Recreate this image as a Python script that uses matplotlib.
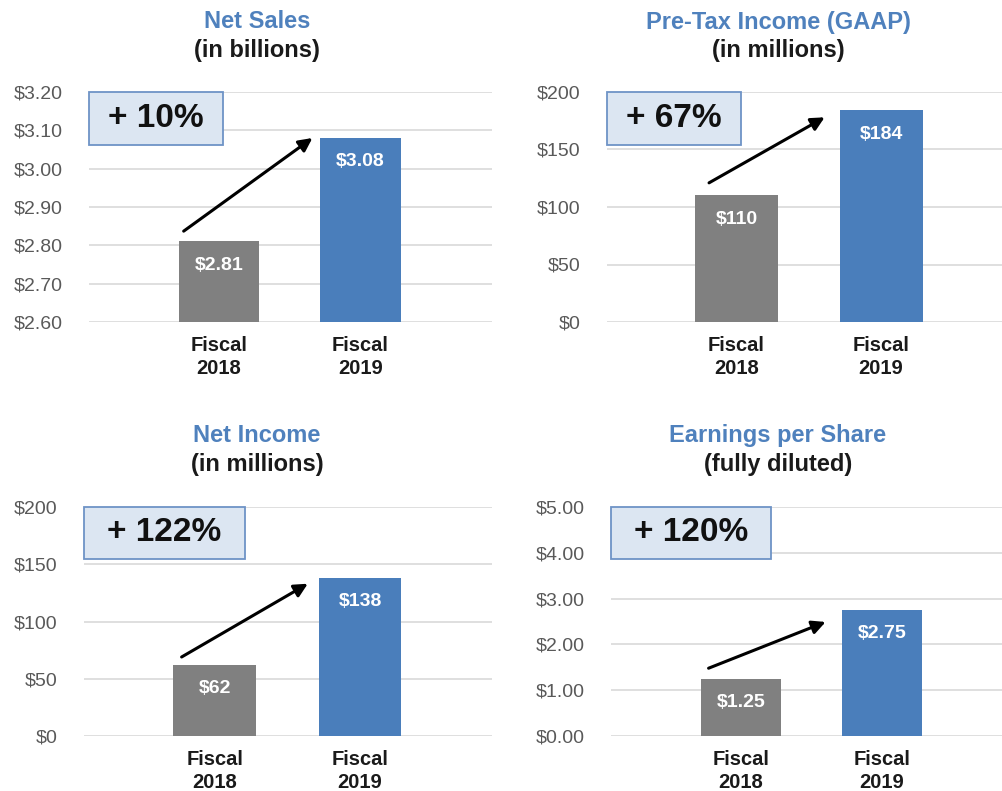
import matplotlib
matplotlib.use("Agg")
import matplotlib.pyplot as plt
from matplotlib.patches import Rectangle
from matplotlib.ticker import FuncFormatter

plt.rcParams['font.family'] = ['Liberation Sans', 'DejaVu Sans']

# ---------------- data ----------------
categories = ["Fiscal\n2018", "Fiscal\n2019"]

titles = ["Net Sales", "Pre-Tax Income (GAAP)", "Net Income", "Earnings per Share"]
subtitles = ["(in billions)", "(in millions)", "(in millions)", "(fully diluted)"]

net_sales = [2.81, 3.08]
pretax_income = [110, 184]
net_income = [62, 138]
eps = [1.25, 2.75]

value_labels_net_sales = ["$2.81", "$3.08"]
value_labels_pretax = ["$110", "$184"]
value_labels_net_income = ["$62", "$138"]
value_labels_eps = ["$1.25", "$2.75"]

growth_labels = ["+ 10%", "+ 67%", "+ 122%", "+ 120%"]

yticks_net_sales = [2.60, 2.70, 2.80, 2.90, 3.00, 3.10, 3.20]
yticks_pretax = [0, 50, 100, 150, 200]
yticks_net_income = [0, 50, 100, 150, 200]
yticks_eps = [0.0, 1.0, 2.0, 3.0, 4.0, 5.0]

tick_formats = ["${:.2f}", "${:.0f}", "${:.0f}", "${:.2f}"]

series = [net_sales, pretax_income, net_income, eps]
value_labels = [value_labels_net_sales, value_labels_pretax,
                value_labels_net_income, value_labels_eps]
yticks = [yticks_net_sales, yticks_pretax, yticks_net_income, yticks_eps]

# ---------------- layout / style ----------------
W, H = 1002, 791
fig = plt.figure(figsize=(W / 100, H / 100), dpi=100)

# axes boxes in pixels: left, right, top, bottom
ax_px = [(89, 492, 92, 322), (607, 1002, 92, 322),
         (84, 492, 507, 736), (611, 1002, 507, 736)]
xlims = [(-0.919, 1.929), (-0.896, 1.837), (-0.903, 1.91), (-0.922, 1.851)]
bar_widths = [0.57, 0.574, 0.572, 0.574]
title_px = [(257, 22, 50), (778, 22, 50), (257, 436, 464), (778, 436, 464)]
box_frac = [(0.333, 0.23), (0.339, 0.23), (0.395, 0.227), (0.41, 0.227)]
arrows = [((-0.25, 2.837), (0.66, 3.08)),
          ((-0.19, 121), (0.61, 178)),
          ((-0.23, 69), (0.64, 133)),
          ((-0.23, 1.48), (0.60, 2.49))]

bar_colors = ["#808080", "#4A7EBB"]
title_color = "#4F81BD"
grid_color = "#D9D9D9"
tick_color = "#595959"
box_face = "#DCE6F2"
box_edge = "#6E93C6"

for i in range(4):
    l, r, t, b = ax_px[i]
    ax = fig.add_axes([l / W, (H - b) / H, (r - l) / W, (b - t) / H])
    x = list(range(len(categories)))
    ax.bar(x, series[i], width=bar_widths[i], color=bar_colors, zorder=2)
    ax.set_xlim(*xlims[i])
    ax.set_ylim(yticks[i][0], yticks[i][-1])
    ax.set_yticks(yticks[i])
    fmt = tick_formats[i]
    ax.yaxis.set_major_formatter(FuncFormatter(lambda v, p, f=fmt: f.format(v)))
    ax.set_xticks(x)
    ax.set_xticklabels(categories, fontsize=14.5, fontweight='bold', color='#1a1a1a',
                       linespacing=1.27)
    ax.tick_params(axis='x', length=0, pad=10)
    ax.tick_params(axis='y', length=0, pad=19, labelsize=14, labelcolor=tick_color)
    for s in ax.spines.values():
        s.set_visible(False)
    ax.yaxis.grid(True, color=grid_color, linewidth=1.2, zorder=0)
    ax.set_axisbelow(True)

    for xi, v, lab in zip(x, series[i], value_labels[i]):
        ax.annotate(lab, (xi, v), xytext=(0, -17), textcoords='offset points',
                    ha='center', va='center', color='white', fontsize=14,
                    fontweight='bold', zorder=3)

    bw, bh = box_frac[i]
    ax.add_patch(Rectangle((0, 1 - bh), bw, bh, transform=ax.transAxes,
                           facecolor=box_face, edgecolor=box_edge, linewidth=1.3,
                           clip_on=False, zorder=4))
    ax.text(bw / 2, 1 - bh / 2, growth_labels[i], transform=ax.transAxes,
            ha='center', va='center', fontsize=24, fontweight='bold',
            color='#111111', zorder=5)

    (xs, ys), (xe, ye) = arrows[i]
    ax.annotate("", xy=(xe, ye), xytext=(xs, ys),
                arrowprops=dict(arrowstyle='-|>', color='black', lw=2.2,
                                mutation_scale=20, shrinkA=0, shrinkB=0),
                zorder=6, annotation_clip=False)

    cx, ty, sy = title_px[i]
    fig.text(cx / W, 1 - ty / H, titles[i], ha='center', va='center',
             fontsize=17, fontweight='bold', color=title_color)
    fig.text(cx / W, 1 - sy / H, subtitles[i], ha='center', va='center',
             fontsize=17, fontweight='bold', color='#1a1a1a')

fig.savefig("out.png", dpi=100)
